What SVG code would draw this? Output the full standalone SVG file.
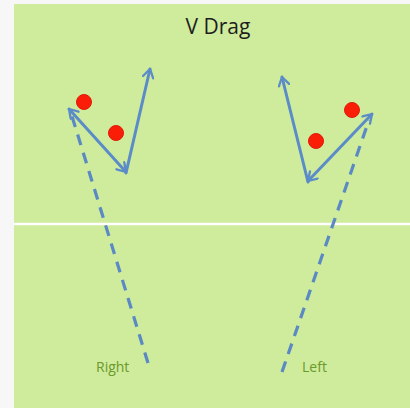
<svg xmlns="http://www.w3.org/2000/svg" width="410" height="408" viewBox="0 0 410 408">
<defs>
<style>
.route{fill:none;stroke:#5b8cc7;stroke-width:3;stroke-linecap:round;stroke-linejoin:round}
.dash{fill:none;stroke:#5a89c4;stroke-width:3.2;stroke-dasharray:11 8}
.dot{fill:#fa1e08;stroke:#e01a0a;stroke-width:1}
.lbl{font-family:"Open Sans","Liberation Sans",sans-serif;font-size:14px;fill:#6a9a2a}
.title{font-family:"Open Sans","Liberation Sans",sans-serif;font-size:21px;fill:#1e1e1e}
</style>
<marker id="arr" viewBox="0 0 12 12" refX="10" refY="6" markerWidth="4.2" markerHeight="4.2" orient="auto-start-reverse" markerUnits="strokeWidth">
<path d="M2,1 L10,6 L2,11" fill="none" stroke="#5b8cc7" stroke-width="2.2" stroke-linecap="round" stroke-linejoin="round"/>
</marker>
</defs>
<rect x="0" y="0" width="410" height="408" fill="#f7f7f7"/>
<rect x="14" y="4" width="396" height="404" fill="#cfeb9c"/>
<line x1="14" y1="224" x2="410" y2="224" stroke="#ffffff" stroke-width="2.5"/>
<text class="title" x="218" y="34" text-anchor="middle">V Drag</text>
<g id="connectors">
<line class="dash" x1="148" y1="363" x2="71" y2="113"/>
<line class="route" x1="69" y1="109" x2="126" y2="172" marker-start="url(#arr)" marker-end="url(#arr)"/>
<line class="route" x1="126" y1="173" x2="150" y2="69" marker-end="url(#arr)"/>
<line class="dash" x1="282" y1="372" x2="369" y2="120"/>
<line class="route" x1="308" y1="182" x2="282" y2="77" marker-end="url(#arr)"/>
<line class="route" x1="372" y1="114" x2="308" y2="181" marker-start="url(#arr)" marker-end="url(#arr)"/>
</g>
<g id="player-right-1"><circle class="dot" cx="84" cy="102" r="7.5"/></g>
<g id="player-right-2"><circle class="dot" cx="116" cy="133" r="7.5"/></g>
<g id="player-left-1"><circle class="dot" cx="352" cy="110" r="7.5"/></g>
<g id="player-left-2"><circle class="dot" cx="316" cy="141" r="7.5"/></g>
<g id="label-right"><text class="lbl" x="96" y="372">Right</text></g>
<g id="label-left"><text class="lbl" x="302" y="372">Left</text></g>
</svg>
